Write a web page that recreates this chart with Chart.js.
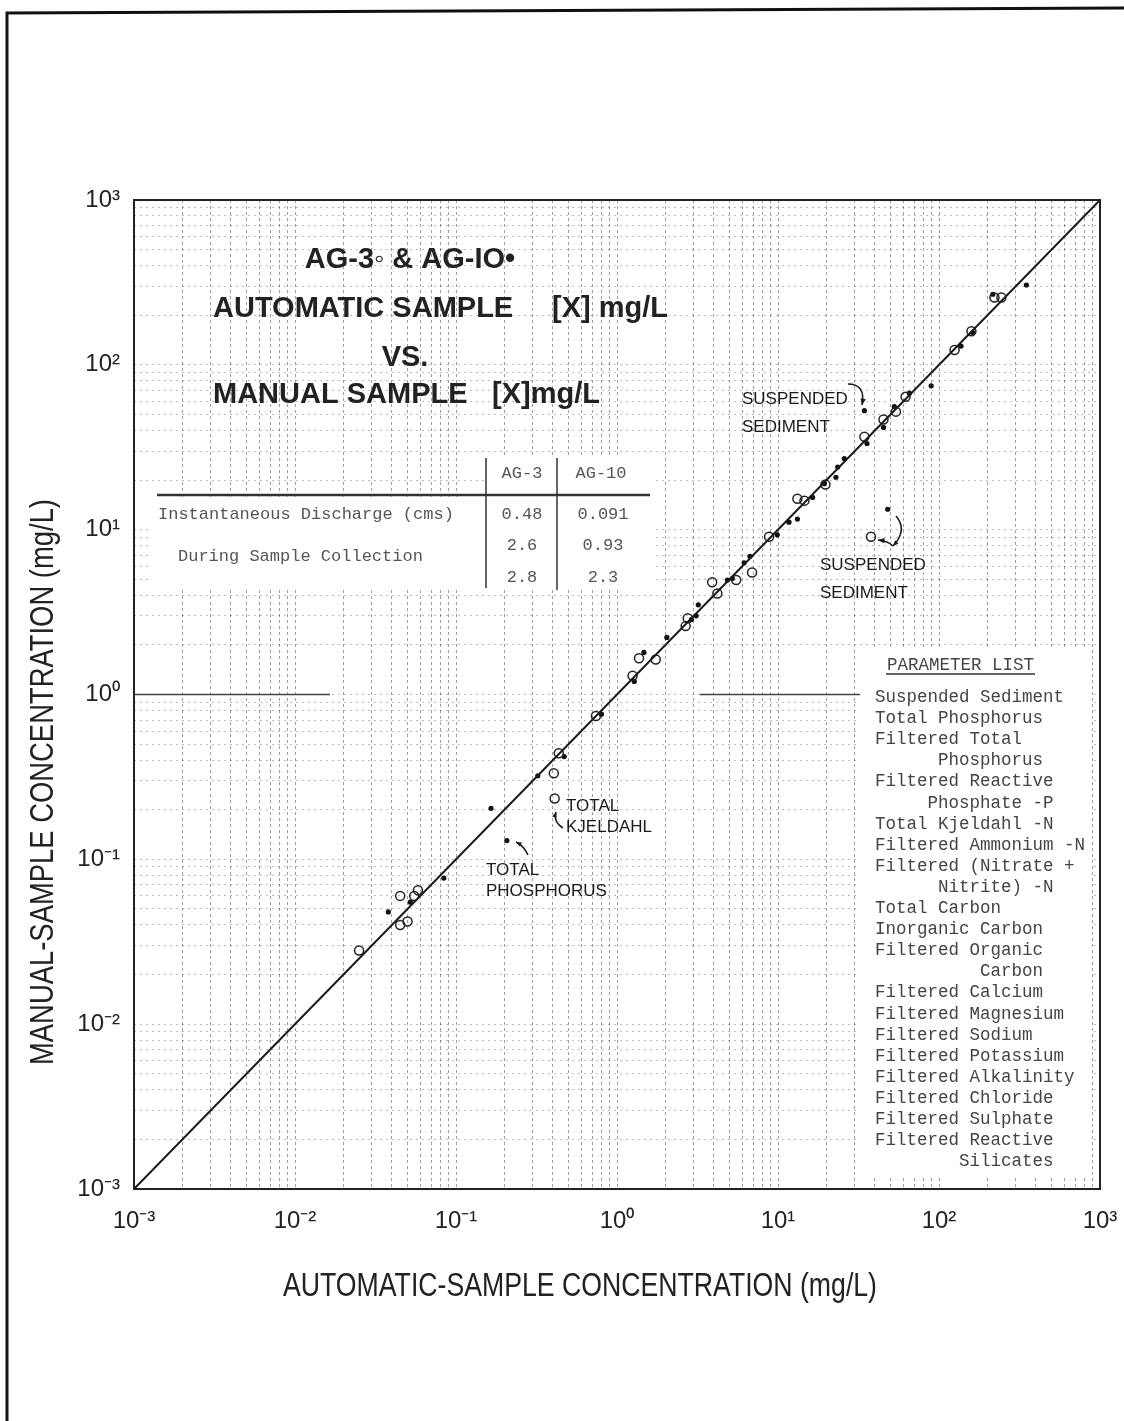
<!DOCTYPE html>
<html>
<head>
<meta charset="utf-8">
<script src="https://cdn.jsdelivr.net/npm/chart.js@4.4.1/dist/chart.umd.min.js"></script>
<style>
  html, body { margin: 0; padding: 0; background: #fff; }
  canvas { display: block; }
</style>
</head>
<body>
<canvas id="chart" width="1124" height="1421"></canvas>
<script>
// AG-3 (open circles): automatic vs manual sample, mg/L
const ag3X = [0.025, 0.045, 0.050, 0.045, 0.055, 0.058, 0.405, 0.41, 0.435, 0.74, 1.25, 1.37, 1.74,
  2.67, 2.75, 3.9, 4.2, 5.5, 6.9, 8.8, 13.2, 14.6, 19.7, 34.4, 45.2, 54, 62, 37.8, 125, 159, 221, 244];
const ag3Y = [0.028, 0.040, 0.042, 0.060, 0.060, 0.065, 0.333, 0.234, 0.44, 0.74, 1.30, 1.66, 1.63,
  2.6, 2.9, 4.8, 4.1, 4.95, 5.5, 9.05, 15.4, 15.0, 18.8, 36.6, 46.6, 52, 64, 9.05, 123, 160, 256, 256];

// AG-10 (filled dots)
const ag10X = [0.038, 0.052, 0.084, 0.165, 0.207, 0.322, 0.47, 0.80, 1.28, 1.47, 2.04, 2.9, 3.1, 3.2,
  4.85, 5.2, 6.16, 6.7, 9.9, 11.7, 13.2, 16.4, 19.4, 22.9, 23.5, 25.8, 35.7, 34.4, 45.2, 48, 52.8,
  65.5, 89.4, 137, 162, 216, 349];
const ag10Y = [0.048, 0.055, 0.077, 0.204, 0.130, 0.321, 0.42, 0.76, 1.20, 1.80, 2.22, 2.85, 3.0, 3.5,
  4.95, 5.05, 6.3, 6.9, 9.3, 11.1, 11.6, 15.7, 19.0, 20.8, 24.0, 27.0, 33.3, 52.7, 41.7, 13.3, 55.8,
  67.3, 74.6, 130, 157, 268, 305];

// 1:1 line
const lineX = [0.001, 1000];
const lineY = [0.001, 1000];

const decadeTicks = [0.001, 0.01, 0.1, 1, 10, 100, 1000];
const decadeLabels = ['10\u207B\u00B3', '10\u207B\u00B2', '10\u207B\u00B9', '10\u2070', '10\u00B9', '10\u00B2', '10\u00B3'];
const minorSteps = [1, 2, 3, 4, 5, 6, 7, 8, 9];

const tableHeader = ['AG-3', 'AG-10'];
const tableAg3 = ['0.48', '2.6', '2.8'];
const tableAg10 = ['0.091', '0.93', '2.3'];

const parameterList = [
  ['Suspended Sediment', 0], ['Total Phosphorus', 0], ['Filtered Total', 0], ['Phosphorus', 6],
  ['Filtered Reactive', 0], ['Phosphate -P', 5], ['Total Kjeldahl -N', 0], ['Filtered Ammonium -N', 0],
  ['Filtered (Nitrate +', 0], ['Nitrite) -N', 6], ['Total Carbon', 0], ['Inorganic Carbon', 0],
  ['Filtered Organic', 0], ['Carbon', 10], ['Filtered Calcium', 0], ['Filtered Magnesium', 0],
  ['Filtered Sodium', 0], ['Filtered Potassium', 0], ['Filtered Alkalinity', 0], ['Filtered Chloride', 0],
  ['Filtered Sulphate', 0], ['Filtered Reactive', 0], ['Silicates', 8]
];

const toPoints = (xs, ys) => xs.map((x, i) => ({ x, y: ys[i] }));

const gridValues = [];
for (const d of decadeTicks.slice(0, -1)) {
  for (const s of minorSteps) gridValues.push(Number((d * s).toPrecision(6)));
}
gridValues.push(1000);

function decadeLabel(v) {
  const i = decadeTicks.findIndex(d => Math.abs(Math.log10(v) - Math.log10(d)) < 1e-6);
  return i >= 0 ? decadeLabels[i] : '';
}

function arrow(ctx, pts, head) {
  ctx.beginPath();
  ctx.moveTo(pts[0][0], pts[0][1]);
  if (pts.length === 3) ctx.quadraticCurveTo(pts[1][0], pts[1][1], pts[2][0], pts[2][1]);
  else ctx.lineTo(pts[1][0], pts[1][1]);
  ctx.stroke();
  const e = pts[pts.length - 1], p = pts[pts.length - 2];
  const a = Math.atan2(e[1] - p[1], e[0] - p[0]);
  ctx.beginPath();
  ctx.moveTo(e[0], e[1]);
  ctx.lineTo(e[0] - head * Math.cos(a - 0.4), e[1] - head * Math.sin(a - 0.4));
  ctx.lineTo(e[0] - head * Math.cos(a + 0.4), e[1] - head * Math.sin(a + 0.4));
  ctx.closePath();
  ctx.fill();
}

function fitText(ctx, text, x, y, width) {
  const w = ctx.measureText(text).width;
  ctx.save();
  ctx.translate(x, y);
  ctx.scale(width / w, 1);
  ctx.fillText(text, -w / 2, 0);
  ctx.restore();
}

const decor = {
  id: 'decor',
  beforeDraw(chart) {
    const ctx = chart.ctx;
    ctx.save();
    ctx.fillStyle = '#fff';
    ctx.fillRect(0, 0, chart.width, chart.height);
    // page border of the scan
    ctx.strokeStyle = '#111';
    ctx.lineWidth = 3;
    ctx.beginPath();
    ctx.moveTo(7, 1421);
    ctx.lineTo(7, 13);
    ctx.lineTo(1124, 8);
    ctx.stroke();
    ctx.restore();
  },
  beforeDatasetsDraw(chart) {
    const ctx = chart.ctx;
    const a = chart.chartArea;
    const ys = chart.scales.y;
    ctx.save();
    // heavier 10^0 line
    const y1 = ys.getPixelForValue(1);
    ctx.strokeStyle = '#444';
    ctx.lineWidth = 1.5;
    ctx.beginPath();
    ctx.moveTo(a.left, y1); ctx.lineTo(330, y1);
    ctx.moveTo(700, y1); ctx.lineTo(860, y1);
    ctx.stroke();
    // white boxes of the inset table and parameter list
    ctx.fillStyle = '#fff';
    ctx.fillRect(148, 497, 505, 93);
    ctx.fillRect(484, 456, 170, 42);
    ctx.fillRect(860, 650, 232, 527);
    // frame
    ctx.strokeStyle = '#222';
    ctx.lineWidth = 2;
    ctx.strokeRect(a.left, a.top, a.right - a.left, a.bottom - a.top);
    ctx.restore();
  },
  afterDatasetsDraw(chart) {
    const ctx = chart.ctx;
    ctx.save();
    ctx.fillStyle = '#222';
    ctx.strokeStyle = '#1a1a1a';
    ctx.textBaseline = 'alphabetic';

    // title block
    ctx.font = 'bold 29px "Liberation Sans", Arial, sans-serif';
    ctx.textAlign = 'center';
    ctx.fillText('AG-3\u25E6 & AG-IO\u2022', 410, 268);
    ctx.fillText('VS.', 405, 366);
    ctx.textAlign = 'left';
    ctx.fillText('AUTOMATIC SAMPLE', 213, 317);
    ctx.fillText('[X] mg/L', 552, 317);
    ctx.fillText('MANUAL SAMPLE', 213, 403);
    ctx.fillText('[X]mg/L', 492, 403);

    // discharge table
    ctx.fillStyle = '#555';
    ctx.strokeStyle = '#333';
    ctx.font = '17px "Liberation Mono", "DejaVu Sans Mono", monospace';
    ctx.textAlign = 'center';
    ctx.fillText(tableHeader[0], 522, 478);
    ctx.fillText(tableHeader[1], 601, 478);
    const rowY = [519, 550, 582];
    tableAg3.forEach((t, i) => ctx.fillText(t, 522, rowY[i]));
    tableAg10.forEach((t, i) => ctx.fillText(t, 603, rowY[i]));
    ctx.textAlign = 'left';
    ctx.fillText('Instantaneous Discharge (cms)', 158, 519);
    ctx.fillText('During Sample Collection', 178, 561);
    ctx.lineWidth = 2.5;
    ctx.beginPath();
    ctx.moveTo(157, 495); ctx.lineTo(650, 495);
    ctx.stroke();
    ctx.lineWidth = 1.5;
    ctx.beginPath();
    ctx.moveTo(486, 458); ctx.lineTo(486, 588);
    ctx.moveTo(557, 458); ctx.lineTo(557, 590);
    ctx.stroke();

    // parameter list
    ctx.fillStyle = '#444';
    ctx.font = '17.5px "Liberation Mono", "DejaVu Sans Mono", monospace';
    ctx.fillText('PARAMETER LIST', 887, 670);
    ctx.lineWidth = 1.5;
    ctx.beginPath();
    ctx.moveTo(886, 674); ctx.lineTo(1035, 674);
    ctx.stroke();
    const cw = ctx.measureText('M').width;
    parameterList.forEach(([t, indent], i) => {
      ctx.fillText(t, 875 + indent * cw, 702 + i * 21.1);
    });

    // annotations
    ctx.fillStyle = '#1a1a1a';
    ctx.strokeStyle = '#1a1a1a';
    ctx.font = '17px "Liberation Sans", Arial, sans-serif';
    ctx.fillText('SUSPENDED', 742, 404);
    ctx.fillText('SEDIMENT', 742, 432);
    ctx.fillText('SUSPENDED', 820, 570);
    ctx.fillText('SEDIMENT', 820, 598);
    ctx.fillText('TOTAL', 566, 811);
    ctx.fillText('KJELDAHL', 566, 832);
    ctx.fillText('TOTAL', 486, 875);
    ctx.fillText('PHOSPHORUS', 486, 896);
    ctx.lineWidth = 1.5;
    arrow(ctx, [[848, 384], [866, 384], [862, 405]], 7);
    arrow(ctx, [[896, 516], [908, 530], [893, 546]], 6);
    arrow(ctx, [[893, 546], [888, 541], [878, 540]], 7);
    arrow(ctx, [[563, 828], [553, 822], [556, 812]], 6);
    arrow(ctx, [[528, 855], [524, 846], [516, 842]], 6);

    // axis titles (condensed lettering)
    ctx.fillStyle = '#222';
    ctx.font = '34px "Liberation Sans", Arial, sans-serif';
    fitText(ctx, 'AUTOMATIC-SAMPLE CONCENTRATION (mg/L)', 580, 1296, 594);
    ctx.save();
    ctx.translate(53, 782);
    ctx.rotate(-Math.PI / 2);
    fitText(ctx, 'MANUAL-SAMPLE CONCENTRATION (mg/L)', 0, 0, 566);
    ctx.restore();

    ctx.restore();
  }
};

const logAxis = (axis) => ({
  type: 'logarithmic',
  min: 0.001,
  max: 1000,
  afterBuildTicks: scale => { scale.ticks = gridValues.map(v => ({ value: v })); },
  afterFit: scale => {
    if (axis === 'x') {
      scale.height = 232;
      scale.paddingLeft = 0;
      scale.paddingRight = 0;
    } else {
      scale.width = 134;
      scale.paddingTop = 0;
      scale.paddingBottom = 0;
    }
  },
  border: { display: false, dash: axis === 'x' ? [3, 3] : [2, 4] },
  grid: {
    drawTicks: false,
    color: axis === 'x' ? 'rgba(0,0,0,0.38)' : 'rgba(0,0,0,0.26)',
    lineWidth: 1
  },
  ticks: {
    autoSkip: false,
    maxRotation: 0,
    padding: axis === 'x' ? 18 : 14,
    color: '#222',
    font: { family: '"Liberation Sans", Arial, sans-serif', size: 24 },
    callback: v => decadeLabel(v)
  }
});

new Chart(document.getElementById('chart'), {
  type: 'scatter',
  data: {
    datasets: [
      {
        label: '1:1',
        data: toPoints(lineX, lineY),
        showLine: true,
        borderColor: '#1a1a1a',
        borderWidth: 2,
        pointRadius: 0
      },
      {
        label: 'AG-3',
        data: toPoints(ag3X, ag3Y),
        pointStyle: 'circle',
        pointRadius: 4.5,
        backgroundColor: 'rgba(255,255,255,0)',
        borderColor: '#222',
        borderWidth: 1.5
      },
      {
        label: 'AG-10',
        data: toPoints(ag10X, ag10Y),
        pointStyle: 'circle',
        pointRadius: 2.6,
        backgroundColor: '#111',
        borderWidth: 0
      }
    ]
  },
  options: {
    responsive: false,
    animation: false,
    devicePixelRatio: 1,
    layout: { padding: { left: 0, top: 200, right: 24, bottom: 0 } },
    scales: { x: logAxis('x'), y: logAxis('y') },
    plugins: {
      legend: { display: false },
      tooltip: { enabled: false }
    }
  },
  plugins: [decor]
});
</script>
</body>
</html>
